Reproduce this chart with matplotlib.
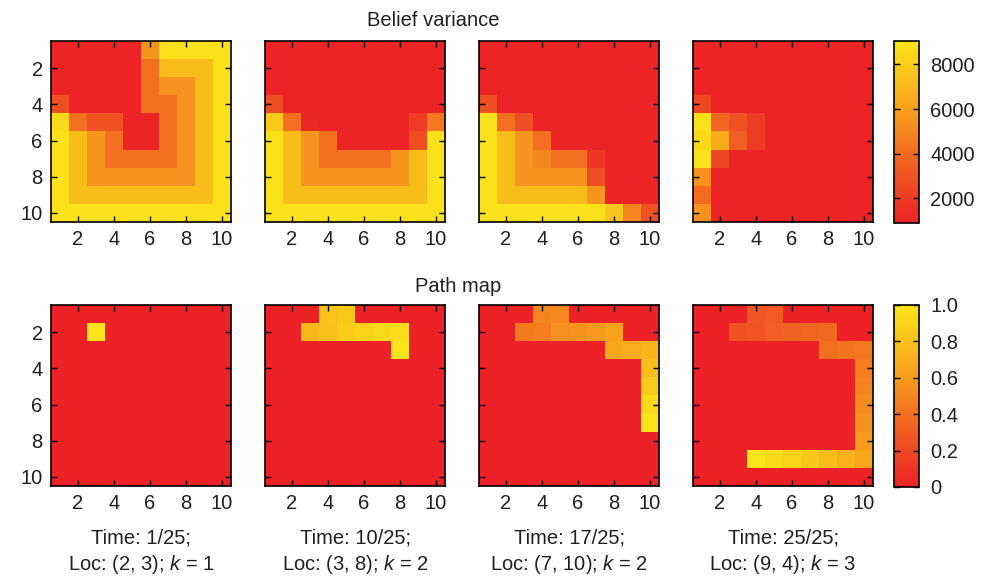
import numpy as np
import matplotlib
matplotlib.use("Agg")
import matplotlib.pyplot as plt
from matplotlib.colors import LinearSegmentedColormap

plt.rcParams['font.family'] = ['Liberation Sans', 'DejaVu Sans']
plt.rcParams['mathtext.fontset'] = 'custom'
plt.rcParams['mathtext.it'] = 'Liberation Sans:italic'
plt.rcParams['mathtext.rm'] = 'Liberation Sans'

# belief variance grids (row 1 at top)
var_t1 = [
    [1000, 1000, 1000, 1000, 1000, 5600, 8900, 8900, 8900, 8900],
    [1000, 1000, 1000, 1000, 1000, 4200, 7300, 7300, 7300, 8900],
    [1000, 1000, 1000, 1000, 1000, 4200, 5600, 5600, 7300, 8900],
    [2800, 1000, 1000, 1000, 1000, 4200, 4200, 5600, 7300, 8900],
    [8600, 4200, 3000, 3000, 1000, 1000, 4200, 5600, 7300, 8900],
    [8900, 7300, 5600, 4200, 1000, 1000, 4200, 5600, 7300, 8900],
    [8900, 7300, 5600, 4200, 4200, 4200, 4200, 5600, 7300, 8900],
    [8900, 7300, 5600, 5600, 5600, 5600, 5600, 5600, 7300, 8900],
    [8900, 7300, 7300, 7300, 7300, 7300, 7300, 7300, 7300, 8900],
    [8900, 8900, 8900, 8900, 8900, 8900, 8900, 8900, 8900, 8900],
]
var_t10 = [
    [1000, 1000, 1000, 1000, 1000, 1000, 1000, 1000, 1000, 1000],
    [1000, 1000, 1000, 1000, 1000, 1000, 1000, 1000, 1000, 1000],
    [1000, 1000, 1000, 1000, 1000, 1000, 1000, 1000, 1000, 1000],
    [2800, 1000, 1000, 1000, 1000, 1000, 1000, 1000, 1000, 1000],
    [7800, 4200, 1200, 1000, 1000, 1000, 1000, 1000, 2000, 4500],
    [8900, 7300, 5600, 4200, 1000, 1000, 1000, 1000, 2800, 8900],
    [8900, 7300, 5600, 4200, 4200, 4200, 4200, 5600, 7300, 8900],
    [8900, 7300, 5600, 5600, 5600, 5600, 5600, 5600, 7300, 8900],
    [8900, 7300, 7300, 7300, 7300, 7300, 7300, 7300, 7300, 8900],
    [8900, 8900, 8900, 8900, 8900, 8900, 8900, 8900, 8900, 8900],
]
var_t17 = [
    [1000, 1000, 1000, 1000, 1000, 1000, 1000, 1000, 1000, 1000],
    [1000, 1000, 1000, 1000, 1000, 1000, 1000, 1000, 1000, 1000],
    [1000, 1000, 1000, 1000, 1000, 1000, 1000, 1000, 1000, 1000],
    [2800, 1000, 1000, 1000, 1000, 1000, 1000, 1000, 1000, 1000],
    [8900, 4200, 2800, 1000, 1000, 1000, 1000, 1000, 1000, 1000],
    [8900, 7300, 5600, 4200, 1000, 1000, 1000, 1000, 1000, 1000],
    [8900, 7300, 5600, 5000, 4200, 4200, 1800, 1000, 1000, 1000],
    [8900, 7300, 5600, 5600, 5600, 5600, 2800, 1000, 1000, 1000],
    [8900, 7300, 7300, 7300, 7300, 7300, 5600, 1000, 1000, 1000],
    [8900, 8900, 8900, 8900, 8900, 8900, 8900, 7600, 5000, 3000],
]
var_t25 = [
    [1000, 1000, 1000, 1000, 1000, 1000, 1000, 1000, 1000, 1000],
    [1000, 1000, 1000, 1000, 1000, 1000, 1000, 1000, 1000, 1000],
    [1000, 1000, 1000, 1000, 1000, 1000, 1000, 1000, 1000, 1000],
    [2500, 1000, 1000, 1000, 1000, 1000, 1000, 1000, 1000, 1000],
    [8900, 3800, 3000, 2000, 1000, 1000, 1000, 1000, 1000, 1000],
    [8500, 6500, 3500, 2000, 1000, 1000, 1000, 1000, 1000, 1000],
    [8900, 2500, 1000, 1000, 1000, 1000, 1000, 1000, 1000, 1000],
    [5500, 1000, 1000, 1000, 1000, 1000, 1000, 1000, 1000, 1000],
    [4000, 1000, 1000, 1000, 1000, 1000, 1000, 1000, 1000, 1000],
    [5500, 1000, 1000, 1000, 1000, 1000, 1000, 1000, 1000, 1000],
]

# path maps: visited (row, col) and recency value
path_t1_rows = [2]
path_t1_cols = [3]
path_t1_vals = [1.0]

path_t10_rows = [2, 2, 1, 1, 2, 2, 2, 2, 3]
path_t10_cols = [3, 4, 4, 5, 5, 6, 7, 8, 8]
path_t10_vals = [0.75, 0.8, 0.82, 0.85, 0.87, 0.9, 0.93, 0.96, 1.0]

path_t17_rows = [2, 2, 1, 1, 2, 2, 2, 2, 3, 3, 3, 4, 5, 6, 7]
path_t17_cols = [3, 4, 4, 5, 5, 6, 7, 8, 8, 9, 10, 10, 10, 10, 10]
path_t17_vals = [0.45, 0.47, 0.5, 0.52, 0.55, 0.57, 0.6, 0.63, 0.67, 0.7,
                 0.74, 0.8, 0.86, 0.93, 1.0]

path_t25_rows = [2, 2, 1, 1, 2, 2, 2, 2, 3, 3, 3, 4, 5, 6, 7, 8, 9, 9, 9, 9, 9, 9, 9]
path_t25_cols = [3, 4, 4, 5, 5, 6, 7, 8, 8, 9, 10, 10, 10, 10, 10, 10, 10, 9, 8, 7, 6, 5, 4]
path_t25_vals = [0.25, 0.27, 0.28, 0.3, 0.31, 0.33, 0.35, 0.37, 0.4, 0.42, 0.44,
                 0.47, 0.5, 0.53, 0.57, 0.6, 0.66, 0.72, 0.78, 0.84, 0.9, 0.95, 1.0]

time_labels = ['Time: 1/25;', 'Time: 10/25;', 'Time: 17/25;', 'Time: 25/25;']
loc_labels = ['Loc: (2, 3); $k$ = 1', 'Loc: (3, 8); $k$ = 2',
              'Loc: (7, 10); $k$ = 2', 'Loc: (9, 4); $k$ = 3']

var_ticks = [2000, 4000, 6000, 8000]
path_ticks = [0, 0.2, 0.4, 0.6, 0.8, 1.0]
path_tick_labels = ['0', '0.2', '0.4', '0.6', '0.8', '1.0']

cmap = LinearSegmentedColormap.from_list(
    'ry', [(0.0, '#EC2226'), (0.35, '#F26522'), (0.65, '#F8A51C'), (1.0, '#FBE41A')])

W, H = 993, 578
FS = 14.5
TXT = '#231F20'


def px_rect(x0, y0, x1, y1):
    return [x0 / W, 1 - y1 / H, (x1 - x0) / W, (y1 - y0) / H]


def style_ax(ax, show_y):
    ax.set_xticks([2, 4, 6, 8, 10])
    ax.set_yticks([2, 4, 6, 8, 10])
    ax.tick_params(direction='in', top=True, right=True, length=4, width=1,
                   labelsize=FS, labelcolor=TXT, pad=6, labelleft=show_y)
    for s in ax.spines.values():
        s.set_linewidth(1.2)


def path_grid(rows, cols, vals):
    g = np.zeros((10, 10))
    for r, c, v in zip(rows, cols, vals):
        g[r - 1, c - 1] = v
    return g


fig = plt.figure(figsize=(W / 100, H / 100), dpi=100)

lefts = [51, 265, 479, 693]
var_grids = [var_t1, var_t10, var_t17, var_t25]
paths = [(path_t1_rows, path_t1_cols, path_t1_vals),
         (path_t10_rows, path_t10_cols, path_t10_vals),
         (path_t17_rows, path_t17_cols, path_t17_vals),
         (path_t25_rows, path_t25_cols, path_t25_vals)]

im_top = im_bot = None
for i, x0 in enumerate(lefts):
    ax = fig.add_axes(px_rect(x0, 41, x0 + 180, 222))
    im_top = ax.imshow(np.array(var_grids[i]), cmap=cmap, vmin=900, vmax=9050,
                       interpolation='nearest', aspect='auto',
                       extent=[0.5, 10.5, 10.5, 0.5])
    style_ax(ax, i == 0)

    ax2 = fig.add_axes(px_rect(x0, 305, x0 + 180, 486))
    im_bot = ax2.imshow(path_grid(*paths[i]), cmap=cmap, vmin=0, vmax=1,
                        interpolation='nearest', aspect='auto',
                        extent=[0.5, 10.5, 10.5, 0.5])
    style_ax(ax2, i == 0)

    cx = (x0 + 90) / W
    fig.text(cx, 1 - 538 / H, time_labels[i], ha='center', va='center',
             fontsize=FS, color=TXT)
    fig.text(cx, 1 - 565 / H, loc_labels[i], ha='center', va='center',
             fontsize=FS, color=TXT)

cax1 = fig.add_axes(px_rect(894, 41, 919, 223))
cb1 = fig.colorbar(im_top, cax=cax1, ticks=var_ticks)
cax2 = fig.add_axes(px_rect(894, 305, 919, 487))
cb2 = fig.colorbar(im_bot, cax=cax2, ticks=path_ticks)
cb2.ax.set_yticklabels(path_tick_labels)
for cb in (cb1, cb2):
    cb.outline.set_linewidth(1.2)
    cb.ax.tick_params(direction='in', left=True, right=True, length=4, width=1,
                      labelsize=FS, labelcolor=TXT, pad=8)

fig.text(433 / W, 1 - 20 / H, 'Belief variance', ha='center', va='center',
         fontsize=FS, color=TXT)
fig.text(458 / W, 1 - 287 / H, 'Path map', ha='center', va='center',
         fontsize=FS, color=TXT)

fig.savefig('out.png', dpi=100)
